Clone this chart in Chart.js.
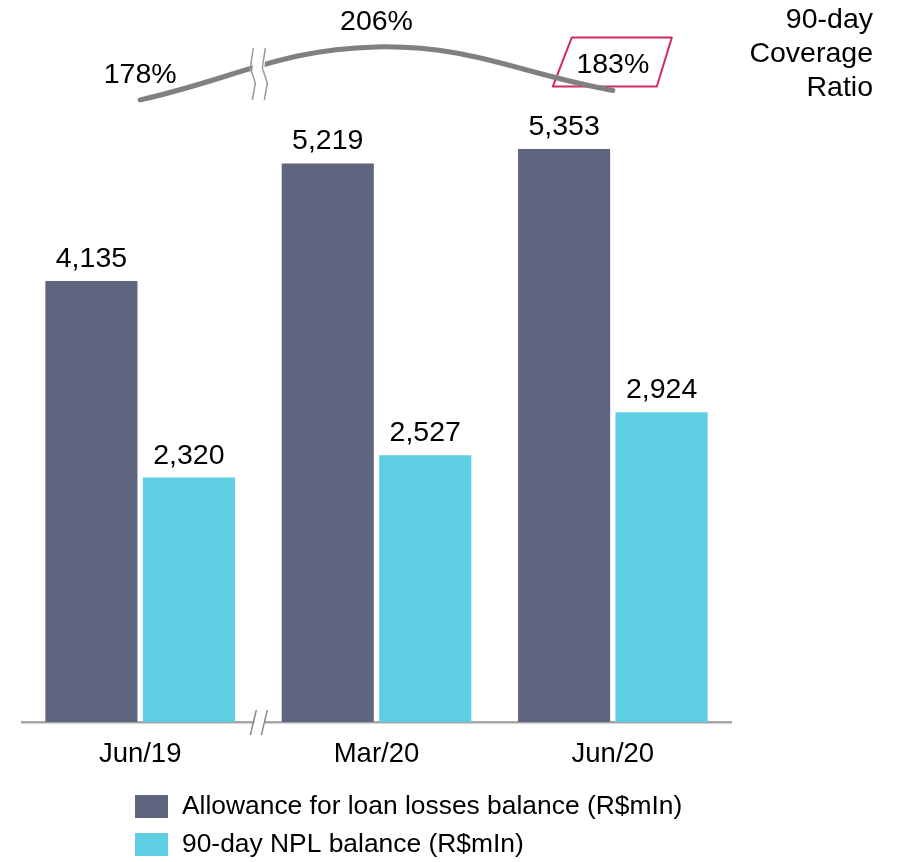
<!DOCTYPE html>
<html><head><meta charset="utf-8">
<script src="https://cdn.jsdelivr.net/npm/chart.js@4.4.0/dist/chart.umd.min.js"></script>
<style>html,body{margin:0;padding:0;background:#fff;} #wrap{position:relative;width:910px;height:862px;}</style>
</head><body><div id="wrap"><canvas id="c" width="910" height="862"></canvas></div>
<script>
const categories = ['Jun/19', 'Mar/20', 'Jun/20'];
const allowance = [4135, 5219, 5353];
const npl = [2320, 2527, 2924];
const coverage = [178, 206, 183];
const seriesNames = ['Allowance for loan losses balance (R$mIn)', '90-day NPL balance (R$mIn)'];
const coverageTitle = ['90-day', 'Coverage', 'Ratio'];

const DARK = '#60657f', LIGHT = '#5ecfe2', GRAY = '#808080', PINK = '#d02a64';
const FONT = '"Liberation Sans", Arial, sans-serif';

const decor = {
  id: 'decor',
  beforeDatasetsDraw(chart) {
    const ctx = chart.ctx;
    const meta = chart.getDatasetMeta(2);
    const p = meta.data[meta.data.length - 1];
    ctx.save();
    ctx.strokeStyle = PINK; ctx.lineWidth = 2; ctx.lineJoin = 'round';
    ctx.beginPath();
    ctx.moveTo(p.x - 41, p.y - 53); ctx.lineTo(p.x + 59, p.y - 53);
    ctx.lineTo(p.x + 44, p.y - 4); ctx.lineTo(p.x - 60, p.y - 4);
    ctx.closePath(); ctx.stroke();
    ctx.restore();
  },
  afterDatasetsDraw(chart) {
    const ctx = chart.ctx;
    const xs = chart.scales.x;
    const xb = (xs.getPixelForValue(0) + xs.getPixelForValue(1)) / 2;
    const bottom = chart.chartArea.bottom;
    ctx.save();
    ctx.fillStyle = '#fff';
    ctx.beginPath();
    ctx.moveTo(xb - 5, 48); ctx.lineTo(xb + 7, 48); ctx.lineTo(xb + 5, 100); ctx.lineTo(xb - 7, 100);
    ctx.closePath(); ctx.fill();
    ctx.strokeStyle = '#9a9a9a'; ctx.lineWidth = 1.5;
    [-5, 7].forEach(o => {
      ctx.beginPath();
      ctx.moveTo(xb + o, 48); ctx.lineTo(xb + o - 3, 68); ctx.lineTo(xb + o + 2, 83); ctx.lineTo(xb + o - 1, 100);
      ctx.stroke();
    });
    ctx.fillStyle = '#fff';
    ctx.fillRect(xb - 4, bottom - 3, 10, 7);
    ctx.strokeStyle = '#8a8a8a'; ctx.lineWidth = 1.5;
    [-2, 9].forEach(o => {
      ctx.beginPath(); ctx.moveTo(xb + o, bottom - 12); ctx.lineTo(xb + o - 6, bottom + 13); ctx.stroke();
    });
    ctx.fillStyle = '#000'; ctx.textAlign = 'center'; ctx.textBaseline = 'alphabetic';
    ctx.font = '28.5px ' + FONT;
    [0, 1].forEach(di => {
      const m = chart.getDatasetMeta(di);
      m.data.forEach((bar, i) => {
        const v = chart.data.datasets[di].data[i];
        ctx.fillText(v.toLocaleString('en-US'), bar.x, bar.y - 14);
      });
    });
    const lm = chart.getDatasetMeta(2);
    lm.data.forEach((pt, i) => {
      ctx.fillText(chart.data.datasets[2].data[i] + '%', pt.x, pt.y - 17);
    });
    ctx.textAlign = 'right';
    const tb = [28, 62, 96];
    coverageTitle.forEach((t, i) => ctx.fillText(t, 873, tb[i]));
    ctx.textAlign = 'left'; ctx.textBaseline = 'middle';
    ctx.font = '26.4px ' + FONT;
    const lx = 135, ly = [795, 833];
    [0, 1].forEach(di => {
      const ds = chart.data.datasets[di];
      ctx.fillStyle = ds.backgroundColor;
      ctx.fillRect(lx, ly[di], 33, 23);
      ctx.fillStyle = '#000';
      ctx.fillText(ds.label, lx + 47, ly[di] + 12);
    });
    ctx.restore();
  }
};

new Chart(document.getElementById('c'), {
  data: {
    labels: categories,
    datasets: [
      { type: 'bar', label: seriesNames[0], data: allowance, backgroundColor: DARK, yAxisID: 'y', order: 2,
        categoryPercentage: 0.825, barPercentage: 0.945 },
      { type: 'bar', label: seriesNames[1], data: npl, backgroundColor: LIGHT, yAxisID: 'y', order: 2,
        categoryPercentage: 0.825, barPercentage: 0.945 },
      { type: 'line', label: '90-day Coverage Ratio', data: coverage, borderColor: GRAY, borderWidth: 5,
        tension: 0.4, pointRadius: 0, borderCapStyle: 'round', yAxisID: 'y2', order: 0, clip: false, fill: false }
    ]
  },
  options: {
    responsive: false, devicePixelRatio: 1, animation: false,
    layout: { padding: { left: 22, right: 179, top: 10, bottom: 0 } },
    plugins: { legend: { display: false }, tooltip: { enabled: false } },
    scales: {
      x: {
        grid: { display: false, drawTicks: false },
        border: { display: true, color: '#a6a6a6', width: 2.5 },
        ticks: { color: '#000', font: { family: FONT, size: 27.5 }, padding: 16 },
        afterFit(s) { s.height = 140; }
      },
      y: { display: false, min: 65, max: 6635 },
      y2: { display: false, min: -150.6, max: 225.5 }
    }
  },
  plugins: [decor]
});
</script></body></html>
